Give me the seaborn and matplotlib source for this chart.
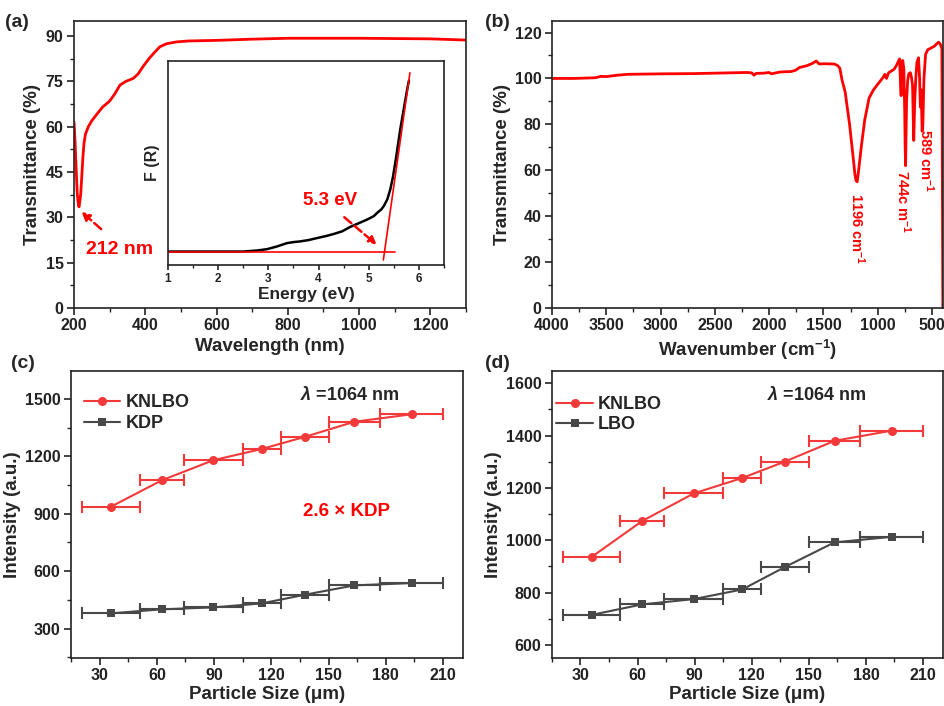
import matplotlib
matplotlib.use("Agg")
import matplotlib.pyplot as plt
from matplotlib.ticker import MultipleLocator, NullLocator
import pandas as pd
import seaborn as sns


# (a) UV-vis-NIR transmittance spectrum
UV_WAVELENGTH = [200, 203, 206, 209, 212, 214, 216, 219, 222, 225, 228, 232, 240, 250, 263, 280,
                 300, 315, 329, 345, 366, 380, 394, 410, 425, 441, 460, 488, 520, 600, 700, 800,
                 1000, 1200, 1300]
UV_TRANSMITTANCE = [61.6, 55, 46, 38, 34.5, 33.5, 35, 38, 44, 50, 54.5, 57.5, 60, 62, 64, 66.5,
                    68.5, 71, 73.8, 75, 76, 77.5, 80, 82.5, 84.5, 86.5, 87.5, 88.1, 88.4, 88.6, 89.0,
                    89.3, 89.3, 89.1, 88.7]

# (a) inset: Kubelka-Munk function
ENERGY = [1.0, 1.5, 2.0, 2.5, 2.77, 2.97, 3.17, 3.37, 3.5, 3.63, 3.8, 3.97, 4.15, 4.3, 4.47, 4.63,
          4.8, 4.97, 5.1, 5.17, 5.25, 5.3, 5.37, 5.43, 5.48, 5.53, 5.58, 5.63, 5.7, 5.77, 5.8]
F_R = [0, 0, 0, 0, 0.03, 0.07, 0.15, 0.25, 0.28, 0.3, 0.34, 0.4, 0.46, 0.52, 0.6, 0.73,
       0.84, 0.95, 1.05, 1.15, 1.25, 1.35, 1.55, 1.85, 2.2, 2.65, 3.15, 3.65, 4.25, 4.85, 5.07]
TANGENT_E = [5.29, 5.82]
TANGENT_F = [-0.25, 5.3]
BASE_E = [1.0, 5.53]
BASE_F = [0, 0]

# (b) IR spectrum
IR_WAVENUMBER = [4000, 3800, 3600, 3550, 3500, 3400, 3300, 3000, 2700, 2500, 2300, 2200, 2160, 2140,
                 2120, 2050, 2000, 1980, 1900, 1800, 1760, 1720, 1700, 1650, 1600, 1567, 1540, 1500,
                 1400, 1370, 1350, 1330, 1300, 1260, 1230, 1210, 1200, 1190, 1180, 1150, 1120, 1080,
                 1040, 1000, 950, 935, 920, 900, 850, 830, 800, 790, 785, 780, 770, 760, 752, 748,
                 744, 740, 735, 725, 715, 700, 690, 680, 669, 660, 650, 640, 625, 615, 608, 600,
                 592, 585, 575, 560, 540, 520, 500, 480, 460, 440, 425, 410, 401]
IR_TRANSMITTANCE = [100.0, 100.0, 100.3, 100.9, 100.8, 101.4, 101.8, 102.0, 102.1, 102.3, 102.5, 102.6,
                    102.4, 101.4, 102.2, 102.3, 102.6, 102.0, 102.8, 103.0, 103.5, 104.8, 105.0, 105.6,
                    106.6, 107.6, 106.3, 106.4, 106.3, 105.6, 104.5, 99.5, 94.0, 80.0, 67.0, 58.0,
                    55.5, 55.0, 58.5, 71.0, 82.0, 91.5, 95.0, 97.5, 100.5, 101.8, 100.0, 102.5,
                    104.0, 105.5, 108.5, 97.0, 92.5, 107.5, 107.8, 104.0, 85.0, 70.0, 62.0, 75.0,
                    90.0, 99.0, 102.0, 102.5, 100.5, 97.0, 73.0, 90.0, 100.0, 107.0, 109.0, 100.0,
                    87.5, 95.0, 77.0, 80.0, 100.0, 110.5, 112.5, 113.0, 113.5, 114.0, 115.0, 115.8,
                    115.0, 113.0, 0.0]
IR_PEAKS = ["1196 cm$^{-1}$", "744c m$^{-1}$", "589 cm$^{-1}$"]
IR_PEAK_X = [1190, 762, 555]
IR_PEAK_Y = [50, 60, 78]

# (c), (d) powder SHG vs particle size
PARTICLE_SIZE = [36, 62.5, 89.5, 115, 137.5, 163.5, 193.5]
SIZE_HALF_RANGE = [15, 11.5, 15.5, 10, 12.5, 13.5, 16.5]
KNLBO = [937, 1074, 1179, 1238, 1301, 1380, 1419]
KDP = [380, 401, 411, 432, 477, 526, 538]
LBO = [715, 755, 775, 812, 898, 992, 1013]

RED = "#ff0000"
SHG_RED = "#f23a3a"
GREY = "#484848"

sns.set_theme(style="ticks")
plt.rcParams["font.family"] = ["Liberation Sans", "DejaVu Sans"]
plt.rcParams["font.weight"] = "bold"
plt.rcParams["axes.labelweight"] = "bold"
plt.rcParams["mathtext.fontset"] = "custom"
plt.rcParams["mathtext.rm"] = "Liberation Sans:bold"
plt.rcParams["mathtext.bf"] = "Liberation Sans:bold"
plt.rcParams["mathtext.it"] = "Liberation Sans:italic"


def style_axes(ax, size=11.5):
    for spine in ax.spines.values():
        spine.set_visible(True)
        spine.set_linewidth(1.2)
        spine.set_color("#222222")
    ax.tick_params(which="major", direction="out", length=5, width=1.2, labelsize=size,
                   top=False, right=False, colors="#222222", pad=2.5)
    ax.tick_params(which="minor", direction="out", length=3, width=1.0, top=False, right=False)
    for lab in ax.get_xticklabels() + ax.get_yticklabels():
        lab.set_fontweight("bold")


fig = plt.figure(figsize=(9.44, 7.06), dpi=100)

# ---- (a)
ax_a = fig.add_axes([0.0784, 0.5637, 0.4153, 0.4065])
uv = pd.DataFrame({"wavelength": UV_WAVELENGTH, "T": UV_TRANSMITTANCE})
sns.lineplot(data=uv, x="wavelength", y="T", color=RED, lw=2, ax=ax_a)
ax_a.set_xlim(200, 1300)
ax_a.set_ylim(0, 95)
ax_a.xaxis.set_major_locator(MultipleLocator(200))
ax_a.xaxis.set_minor_locator(MultipleLocator(100))
ax_a.yaxis.set_major_locator(MultipleLocator(15))
ax_a.yaxis.set_minor_locator(MultipleLocator(7.5))
ax_a.set_xlabel("Wavelength (nm)", fontsize=13.5, labelpad=3)
ax_a.set_ylabel("Transmittance (%)", fontsize=13.5, labelpad=3)
style_axes(ax_a)
ax_a.annotate("", xy=(215, 32.5), xytext=(282, 25.5),
              arrowprops=dict(arrowstyle="-|>", color=RED, lw=1.8, ls="--", mutation_scale=12))
ax_a.text(329, 19.5, "212 nm", color=RED, fontsize=14, fontweight="bold", ha="center", va="center")

# ---- inset
ax_in = fig.add_axes([0.178, 0.6246, 0.2924, 0.289])
kmf = pd.DataFrame({"E": ENERGY, "F": F_R})
sns.lineplot(data=kmf, x="E", y="F", color="black", lw=1.8, ax=ax_in)
ax_in.plot(TANGENT_E, TANGENT_F, color=RED, lw=1.2)
ax_in.plot(BASE_E, BASE_F, color=RED, lw=1.2)
ax_in.set_xlim(1, 6.5)
ax_in.set_ylim(-0.4, 5.65)
ax_in.xaxis.set_major_locator(MultipleLocator(1))
ax_in.xaxis.set_minor_locator(MultipleLocator(0.5))
ax_in.yaxis.set_major_locator(NullLocator())
ax_in.set_xlabel("Energy (eV)", fontsize=12.5, labelpad=1)
ax_in.set_ylabel("F (R)", fontsize=11.5, labelpad=6)
style_axes(ax_in, size=8.5)
ax_in.tick_params(which="major", length=3.5)
ax_in.tick_params(which="minor", length=2)
ax_in.annotate("", xy=(5.2, 0.15), xytext=(4.47, 1.07),
               arrowprops=dict(arrowstyle="-|>", color=RED, lw=1.8, ls="--", mutation_scale=11))
ax_in.text(4.23, 1.5, "5.3 eV", color=RED, fontsize=13.5, fontweight="bold", ha="center", va="center")

# ---- (b)
ax_b = fig.add_axes([0.5847, 0.5637, 0.4142, 0.4065])
ir = pd.DataFrame({"wn": IR_WAVENUMBER, "T": IR_TRANSMITTANCE})
sns.lineplot(data=ir, x="wn", y="T", color=RED, lw=2, ax=ax_b)
ax_b.set_xlim(4000, 400)
ax_b.set_ylim(0, 125)
ax_b.xaxis.set_major_locator(MultipleLocator(500))
ax_b.xaxis.set_minor_locator(MultipleLocator(250))
ax_b.yaxis.set_major_locator(MultipleLocator(20))
ax_b.yaxis.set_minor_locator(MultipleLocator(10))
ax_b.set_xlabel("Wavenumber (cm$^{-1}$)", fontsize=13.5, labelpad=3)
ax_b.set_ylabel("Transmittance (%)", fontsize=13.5, labelpad=3)
style_axes(ax_b)
for label, px, py in zip(IR_PEAKS, IR_PEAK_X, IR_PEAK_Y):
    ax_b.text(px, py, label, color=RED, fontsize=10.5, fontweight="bold", rotation=270,
              ha="center", va="top")


def shg_panel(ax, ref, ref_name, ylim, major, minor, lam_xy, legend_xy):
    sns.lineplot(x=PARTICLE_SIZE, y=KNLBO, color=SHG_RED, lw=1.5, marker="o", markersize=6.5,
                 markeredgewidth=0, label="KNLBO", ax=ax)
    sns.lineplot(x=PARTICLE_SIZE, y=ref, color=GREY, lw=1.5, marker="s", markersize=5.5,
                 markeredgewidth=0, label=ref_name, ax=ax)
    ax.errorbar(PARTICLE_SIZE, KNLBO, xerr=SIZE_HALF_RANGE, fmt="none", ecolor=SHG_RED,
                elinewidth=1.5, capsize=4, capthick=1.5)
    ax.errorbar(PARTICLE_SIZE, ref, xerr=SIZE_HALF_RANGE, fmt="none", ecolor=GREY,
                elinewidth=1.5, capsize=4, capthick=1.5)
    ax.set_xlim(15, 220.5)
    ax.set_ylim(*ylim)
    ax.xaxis.set_major_locator(MultipleLocator(30))
    ax.xaxis.set_minor_locator(MultipleLocator(15))
    ax.yaxis.set_major_locator(MultipleLocator(major))
    ax.yaxis.set_minor_locator(MultipleLocator(minor))
    ax.set_xlabel("Particle Size (\u03bcm)", fontsize=13.5, labelpad=2)
    ax.set_ylabel("Intensity (a.u.)", fontsize=13.5, labelpad=3)
    style_axes(ax)
    ax.legend(loc="upper left", bbox_to_anchor=legend_xy, frameon=False,
              prop=dict(weight="bold", size=13), handlelength=2.0, handletextpad=0.3,
              labelspacing=0.2, borderaxespad=0.5)
    ax.text(lam_xy[0], lam_xy[1], r"$\lambda$ =1064 nm", fontsize=13, fontweight="bold",
            ha="left", va="center")


# ---- (c)
ax_c = fig.add_axes([0.0752, 0.068, 0.4153, 0.4065])
shg_panel(ax_c, KDP, "KDP", (147, 1645), 300, 150, (135, 1519), (-0.008, 0.975))
ax_c.text(136.5, 910, "2.6 \u00d7 KDP", color=RED, fontsize=13.5, fontweight="bold",
          ha="left", va="center")

# ---- (d)
ax_d = fig.add_axes([0.5847, 0.068, 0.4142, 0.4065])
shg_panel(ax_d, LBO, "LBO", (550, 1647), 200, 100, (128, 1555), (-0.03, 0.97))

for label, fx, fy in [("(a)", 0.005, 0.968), ("(b)", 0.514, 0.968),
                      ("(c)", 0.012, 0.485), ("(d)", 0.514, 0.485)]:
    fig.text(fx, fy, label, fontsize=14, fontweight="bold", ha="left", va="center")

fig.savefig("out.png", dpi=100)
